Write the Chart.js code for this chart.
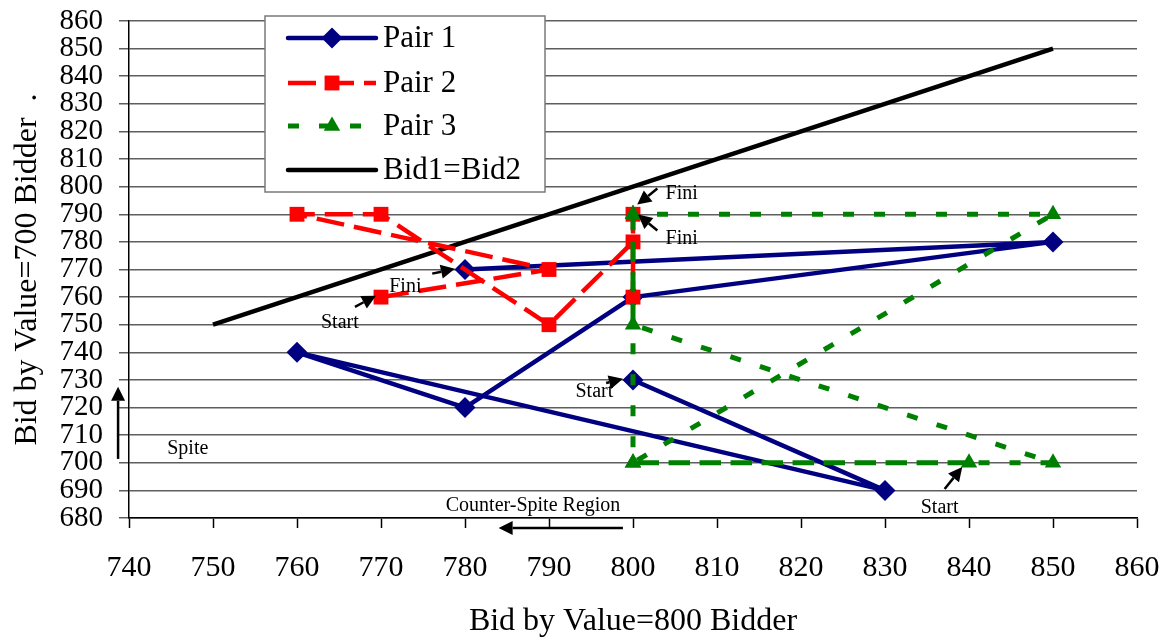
<!DOCTYPE html>
<html>
<head>
<meta charset="utf-8">
<script src="https://cdn.jsdelivr.net/npm/chart.js@4/dist/chart.umd.min.js"></script>
<style>
html,body{margin:0;padding:0;background:#fff;}
#wrap{width:1166px;height:641px;position:relative;}
</style>
</head>
<body>
<div id="wrap"><canvas id="c" width="1166" height="641"></canvas></div>
<script>
// ---- data ----
const xTickValues = [740,750,760,770,780,790,800,810,820,830,840,850,860];
const xTickLabels = ['740','750','760','770','780','790','800','810','820','830','840','850','860'];
const yTickValues = [680,690,700,710,720,730,740,750,760,770,780,790,800,810,820,830,840,850,860];
const yTickLabels = ['680','690','700','710','720','730','740','750','760','770','780','790','800','810','820','830','840','850','860'];

const seriesLabels = ['Pair 1','Pair 2','Pair 3','Bid1=Bid2'];

const pair1X = [800,830,760,780,800,850,780];
const pair1Y = [730,690,740,720,760,780,770];

const pair2X = [770,790,760,770,790,800,800,800];
const pair2Y = [760,770,790,790,750,780,760,790];

const pair3X = [840,800,850,800,800,850,800,800];
const pair3Y = [700,700,790,790,750,700,700,790];

const diagX = [750,850];
const diagY = [750,850];

const xTitle = 'Bid by Value=800 Bidder';
const yTitle = 'Bid by Value=700 Bidder  .';

// ---- annotation texts (placed in data coordinates) ----
const noteTexts = ['Start','Fini','Start','Start','Fini','Fini','Spite','Counter-Spite Region'];
const noteX = [765.1,772.9,795.4,836.5,805.8,805.8,747.0,788.1];
const noteY = [748.9,761.9,723.9,681.8,795.7,779.3,703.2,682.5];

// arrows: tail (x1,y1) -> tip (x2,y2)
const arrowX1 = [766.9,776.1,796.8,837.1,802.9,802.9,738.7,798.8];
const arrowY1 = [756.5,768.5,728.9,690.5,799.3,784.1,701.4,676.4];
const arrowX2 = [769.4,778.8,798.8,839.2,800.5,800.6,738.7,784.0];
const arrowY2 = [760.5,770.3,730.4,698.5,793.5,789.9,727.5,676.4];

const zip = (xs, ys) => xs.map((x,i)=>({x:x, y:ys[i]}));

const SERIF = '"Liberation Serif", "Times New Roman", serif';

function drawArrow(ctx, x1, y1, x2, y2){
  const ang = Math.atan2(y2-y1, x2-x1);
  const hl = 14, hw = 7;
  const bx = x2 - Math.cos(ang)*hl, by = y2 - Math.sin(ang)*hl;
  ctx.beginPath();
  ctx.moveTo(x1,y1); ctx.lineTo(bx,by);
  ctx.lineWidth = 2.5; ctx.strokeStyle = '#000'; ctx.setLineDash([]);
  ctx.stroke();
  ctx.beginPath();
  ctx.moveTo(x2,y2);
  ctx.lineTo(bx - Math.sin(ang)*hw, by + Math.cos(ang)*hw);
  ctx.lineTo(bx + Math.sin(ang)*hw, by - Math.cos(ang)*hw);
  ctx.closePath();
  ctx.fillStyle = '#000';
  ctx.fill();
}

function drawMarker(ctx, style, x, y, r, color){
  ctx.save();
  ctx.fillStyle = color; ctx.strokeStyle = color; ctx.setLineDash([]);
  ctx.beginPath();
  if (style === 'rectRot'){
    ctx.moveTo(x-r,y); ctx.lineTo(x,y-r); ctx.lineTo(x+r,y); ctx.lineTo(x,y+r); ctx.closePath();
  } else if (style === 'rect'){
    const s = r*Math.SQRT1_2;
    ctx.rect(x-s,y-s,2*s,2*s);
  } else if (style === 'triangle'){
    ctx.moveTo(x, y-r);
    ctx.lineTo(x + r*Math.sin(2*Math.PI/3), y - r*Math.cos(2*Math.PI/3));
    ctx.lineTo(x + r*Math.sin(4*Math.PI/3), y - r*Math.cos(4*Math.PI/3));
    ctx.closePath();
  }
  if (style) ctx.fill();
  ctx.restore();
}

const overlay = {
  id: 'overlay',
  afterDatasetsDraw(chart){
    const ctx = chart.ctx;
    const xs = chart.scales.x, ys = chart.scales.y;
    const X = v => xs.getPixelForValue(v), Y = v => ys.getPixelForValue(v);
    ctx.save();
    // annotation text
    ctx.font = '20px ' + SERIF;
    ctx.fillStyle = '#000';
    ctx.textAlign = 'center';
    ctx.textBaseline = 'alphabetic';
    noteTexts.forEach((t,i)=>ctx.fillText(t, X(noteX[i]), Y(noteY[i])));
    // arrows
    arrowX1.forEach((_,i)=>drawArrow(ctx, X(arrowX1[i]), Y(arrowY1[i]), X(arrowX2[i]), Y(arrowY2[i])));

    // legend box
    const lx = 265, ly = 16, lw = 280, lh = 176;
    ctx.fillStyle = '#fff';
    ctx.fillRect(lx, ly, lw, lh);
    ctx.strokeStyle = '#7a7a7a';
    ctx.lineWidth = 1.5;
    ctx.setLineDash([]);
    ctx.strokeRect(lx, ly, lw, lh);
    const rows = [38, 83, 126, 170];
    chart.data.datasets.forEach((ds,i)=>{
      const y = rows[i];
      ctx.save();
      ctx.beginPath();
      ctx.moveTo(288, y); ctx.lineTo(376, y);
      ctx.strokeStyle = ds.borderColor;
      ctx.lineWidth = ds.borderWidth;
      ctx.setLineDash(ds.borderDash || []);
      ctx.lineCap = ds.borderDash && ds.borderDash.length ? 'butt' : 'round';
      ctx.stroke();
      ctx.restore();
      if (ds.pointRadius > 0) drawMarker(ctx, ds.pointStyle, 332, y, ds.pointRadius, ds.pointBackgroundColor);
      ctx.font = '31px ' + SERIF;
      ctx.fillStyle = '#000';
      ctx.textAlign = 'left';
      ctx.textBaseline = 'middle';
      ctx.fillText(ds.label, 383, y + 1);
    });
    ctx.restore();
  }
};

const ctx = document.getElementById('c').getContext('2d');
new Chart(ctx, {
  type: 'scatter',
  data: {
    datasets: [
      {
        label: seriesLabels[0], data: zip(pair1X, pair1Y), showLine: true,
        borderColor: '#000080', backgroundColor: '#000080',
        pointBackgroundColor: '#000080', pointBorderColor: '#000080',
        borderWidth: 4.5, pointStyle: 'rectRot', pointRadius: 10.5, pointBorderWidth: 0,
        tension: 0, order: 3
      },
      {
        label: seriesLabels[1], data: zip(pair2X, pair2Y), showLine: true,
        borderColor: '#ff0000', backgroundColor: '#ff0000',
        pointBackgroundColor: '#ff0000', pointBorderColor: '#ff0000',
        borderWidth: 4.5, borderDash: [28,10], pointStyle: 'rect', pointRadius: 10.5, pointBorderWidth: 0,
        tension: 0, order: 2
      },
      {
        label: seriesLabels[2], data: zip(pair3X, pair3Y), showLine: true,
        borderColor: '#008000', backgroundColor: '#008000',
        pointBackgroundColor: '#008000', pointBorderColor: '#008000',
        borderWidth: 5, borderDash: [11,20], pointStyle: 'triangle', pointRadius: 9.5, pointBorderWidth: 0,
        tension: 0, order: 1
      },
      {
        label: seriesLabels[3], data: zip(diagX, diagY), showLine: true,
        borderColor: '#000000', backgroundColor: '#000000',
        pointBackgroundColor: '#000000',
        borderWidth: 4.5, pointRadius: 0, pointStyle: false,
        tension: 0, order: 4
      }
    ]
  },
  options: {
    responsive: false,
    animation: false,
    devicePixelRatio: 1,
    layout: { padding: { left: 0, right: 29, top: 21, bottom: 0 } },
    plugins: { legend: { display: false }, tooltip: { enabled: false } },
    elements: { line: { borderCapStyle: 'butt', borderJoinStyle: 'round' } },
    scales: {
      x: {
        type: 'linear', min: 740, max: 860,
        afterBuildTicks: s => { s.ticks = xTickValues.map(v=>({value:v})); },
        afterFit: s => { s.height = 123; s.paddingLeft = 0; s.paddingRight = 0; },
        ticks: {
          autoSkip: false, maxRotation: 0, minRotation: 0,
          padding: 22, color: '#000',
          font: { family: SERIF, size: 30, lineHeight: 1.2 },
          callback: v => xTickLabels[xTickValues.indexOf(v)]
        },
        grid: { display: true, drawOnChartArea: false, drawTicks: true, tickLength: 10, tickColor: '#000', tickWidth: 1.5 },
        border: { display: true, color: '#000', width: 1.5 },
        title: { display: true, text: xTitle, color: '#000', font: { family: SERIF, size: 32, lineHeight: 1.2 }, padding: { top: 0, bottom: 0 } }
      },
      y: {
        type: 'linear', min: 680, max: 860,
        afterBuildTicks: s => { s.ticks = yTickValues.map(v=>({value:v})); },
        afterFit: s => { s.width = 129; s.paddingTop = 0; s.paddingBottom = 0; },
        ticks: {
          autoSkip: false, padding: 16, color: '#000',
          font: { family: SERIF, size: 29, lineHeight: 1.0 },
          callback: v => yTickLabels[yTickValues.indexOf(v)]
        },
        grid: { display: true, drawOnChartArea: true, drawTicks: true, tickLength: 10, color: '#5e5e5e', lineWidth: 1.5 },
        border: { display: true, color: '#000', width: 1.5 },
        title: { display: true, text: yTitle, color: '#000', font: { family: SERIF, size: 32, lineHeight: 1.2 }, padding: { top: 8, bottom: 0 } }
      }
    }
  },
  plugins: [overlay]
});
</script>
</body>
</html>
